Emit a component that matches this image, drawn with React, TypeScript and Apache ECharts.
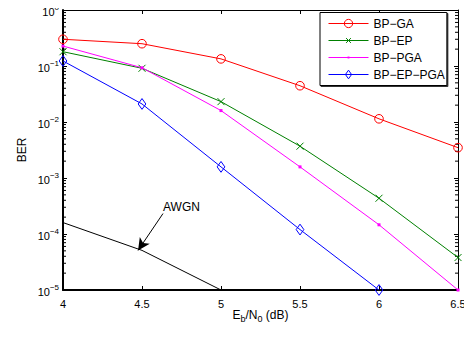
import React, { useEffect, useRef } from "react";
import * as echarts from "echarts";

const snr = [4, 4.5, 5, 5.5, 6, 6.5];
const bpGA = [0.30, 0.25, 0.134, 0.0444, 0.0114, 0.00348];
const bpEP = [0.18, 0.091, 0.0231, 0.0037, 0.000435, 0.000038];
const bpPGA = [0.227, 0.093, 0.016, 0.00158, 0.000146, 0.00001];
const bpEPPGA = [0.123, 0.021, 0.00158, 0.00012, 0.00001];
const awgnX = [4, 4.5, 5];
const awgnY = [0.00016, 0.000051, 0.00001];
const decadeExps = [-5, -4, -3, -2, -1];
const minorMultipliers = [2, 3, 4, 5, 6, 7, 8, 9];
const arrowFrom = [4.633, 0.000232];
const arrowTo = [4.475, 0.000051];
const awgnLabelAt = [4.75, 0.0003];

const FONT = "Liberation Sans";

// marker shapes padded with invisible zero-length segments so the legend keeps them small
const CROSS = "path://M0,0L0,0M10,10L10,10M2.5,2.5L7.5,7.5M7.5,2.5L2.5,7.5";
const DOT = "path://M0,0L0,0M10,10L10,10M4,4L6,4L6,6L4,6Z";
const DIAMOND = "path://M0,0L0,0M10,10L10,10M5,0.5L8.2,5L5,9.5L1.8,5Z";
const CIRCLE = "path://M0,0L0,0M10,10L10,10M9.3,5A4.3,4.3,0,1,1,0.7,5A4.3,4.3,0,1,1,9.3,5Z";

const pairs = (xs: number[], ys: number[]) => ys.map((y, i) => [xs[i], y]);

export default function App() {
  const ref = useRef<HTMLDivElement>(null);
  useEffect(() => {
    if (!ref.current) return;
    const chart = echarts.init(ref.current, undefined, { renderer: "svg" });
    const minorData: number[][] = [];
    decadeExps.forEach((e) =>
      minorMultipliers.forEach((m) => minorData.push([4, m * Math.pow(10, e)]))
    );
    const xName = "{n|E}{sub|b}{n|/N}{sub|0}{n| (dB)}";
    chart.setOption({
      animation: false,
      backgroundColor: "#fff",
      textStyle: { fontFamily: FONT },
      grid: { left: 63, top: 8, right: 14, bottom: 47 },
      legend: {
        orient: "vertical",
        left: 320,
        top: 12.5,
        padding: [5, 2, 5, 8],
        itemWidth: 40,
        itemHeight: 12,
        itemGap: 5,
        backgroundColor: "#fff",
        borderColor: "#000",
        borderWidth: 1,
        shadowColor: "rgba(0,0,0,0.8)",
        shadowOffsetX: 1,
        shadowOffsetY: 1,
        shadowBlur: 0,
        lineStyle: { width: 1 },
        itemStyle: { borderWidth: 1 },
        textStyle: { fontFamily: FONT, fontSize: 12, color: "#000" },
        data: ["BP−GA", "BP−EP", "BP−PGA", "BP−EP−PGA"],
      },
      xAxis: [
        {
          type: "value",
          min: 4,
          max: 6.5,
          interval: 0.5,
          name: xName,
          nameLocation: "middle",
          nameGap: 17,
          nameMoveOverlap: false,
          nameTextStyle: {
            rich: {
              n: { fontFamily: FONT, fontSize: 12, color: "#000", lineHeight: 16 },
              sub: { fontFamily: FONT, fontSize: 9, color: "#000", verticalAlign: "bottom", lineHeight: 10, padding: [10, 0, 0, 0] },
            },
          },
          axisLine: { show: true, onZero: false, lineStyle: { color: "#000", width: 2 } },
          axisTick: { inside: true, length: 4, lineStyle: { color: "#000" } },
          axisLabel: { color: "#000", fontSize: 11, fontFamily: FONT, margin: 8 },
          splitLine: { show: false },
        },
        {
          type: "value",
          position: "top",
          min: 4,
          max: 6.5,
          interval: 0.5,
          axisLine: { show: true, onZero: false, lineStyle: { color: "#000", width: 1 } },
          axisTick: { inside: true, length: 4, lineStyle: { color: "#000" } },
          axisLabel: { show: false },
          splitLine: { show: false },
        },
      ],
      yAxis: [
        {
          type: "log",
          logBase: 10,
          min: 1e-5,
          max: 1,
          splitNumber: 5,
          name: "BER",
          nameLocation: "middle",
          nameGap: 35,
          nameMoveOverlap: false,
          nameTextStyle: { color: "#000", fontSize: 12, fontFamily: FONT },
          axisLine: { show: true, onZero: false, lineStyle: { color: "#000", width: 2 } },
          axisTick: { inside: true, length: 4, lineStyle: { color: "#000" } },
          axisLabel: {
            margin: 4,
            formatter: (v: number) => {
              const e = Math.round(Math.log10(v));
              const s = e < 0 ? "−" + Math.abs(e) : String(e);
              return "{b|10}{s|" + s + "}";
            },
            rich: {
              b: { fontFamily: FONT, fontSize: 11, color: "#000", verticalAlign: "bottom", lineHeight: 14, padding: [6, 0, 0, 0] },
              s: { fontFamily: FONT, fontSize: 8, color: "#000", verticalAlign: "top", lineHeight: 10 },
            },
          },
          splitLine: { show: false },
        },
        {
          type: "log",
          logBase: 10,
          min: 1e-5,
          max: 1,
          splitNumber: 5,
          position: "right",
          axisLine: { show: true, onZero: false, lineStyle: { color: "#000", width: 1 } },
          axisTick: { inside: true, length: 4, lineStyle: { color: "#000" } },
          axisLabel: { show: false },
          splitLine: { show: false },
        },
      ],
      series: [
        {
          name: "BP−GA",
          type: "line",
          data: pairs(snr, bpGA),
          symbol: CIRCLE,
          symbolSize: 10,
          lineStyle: { color: "#ff0000", width: 1 },
          itemStyle: { color: "transparent", borderColor: "#ff0000", borderWidth: 1 },
          z: 3,
        },
        {
          name: "BP−EP",
          type: "line",
          data: pairs(snr, bpEP),
          symbol: CROSS,
          symbolSize: 14,
          lineStyle: { color: "#008000", width: 1 },
          itemStyle: { color: "transparent", borderColor: "#008000", borderWidth: 1 },
          z: 3,
        },
        {
          name: "BP−PGA",
          type: "line",
          data: pairs(snr, bpPGA),
          symbol: DOT,
          symbolSize: 15,
          lineStyle: { color: "#ff00ff", width: 1 },
          itemStyle: { color: "#ff00ff", borderWidth: 0 },
          z: 3,
        },
        {
          name: "BP−EP−PGA",
          type: "line",
          data: pairs(snr, bpEPPGA),
          symbol: DIAMOND,
          symbolSize: 12,
          lineStyle: { color: "#0000ff", width: 1 },
          itemStyle: { color: "transparent", borderColor: "#0000ff", borderWidth: 1 },
          z: 3,
        },
        {
          name: "AWGN",
          type: "line",
          data: pairs(awgnX, awgnY),
          symbol: "none",
          lineStyle: { color: "#000", width: 1 },
          z: 2,
          markLine: {
            silent: true,
            symbol: ["none", "arrow"],
            symbolSize: [9, 12],
            lineStyle: { color: "#000", width: 1, type: "solid" },
            label: { show: false },
            data: [[{ coord: arrowFrom }, { coord: arrowTo }]],
          },
          markPoint: {
            silent: true,
            symbol: "circle",
            symbolSize: 0,
            label: {
              show: true,
              formatter: "AWGN",
              color: "#000",
              fontSize: 12,
              fontFamily: FONT,
              position: "inside",
            },
            data: [{ coord: awgnLabelAt }],
          },
        },
        {
          type: "custom",
          silent: true,
          data: minorData,
          encode: { x: 0, y: 1 },
          renderItem: (params: any, api: any) => {
            const v = api.value(1);
            const pl = api.coord([4, v]);
            const pr = api.coord([6.5, v]);
            return {
              type: "group",
              children: [
                { type: "line", shape: { x1: pl[0], y1: pl[1], x2: pl[0] + 3, y2: pl[1] }, style: { stroke: "#000", lineWidth: 1 } },
                { type: "line", shape: { x1: pr[0], y1: pr[1], x2: pr[0] - 3, y2: pr[1] }, style: { stroke: "#000", lineWidth: 1 } },
              ],
            };
          },
          z: 1,
        },
      ],
    });
    return () => chart.dispose();
  }, []);
  return <div ref={ref} style={{ width: 472, height: 337, margin: -8 }} />;
}
